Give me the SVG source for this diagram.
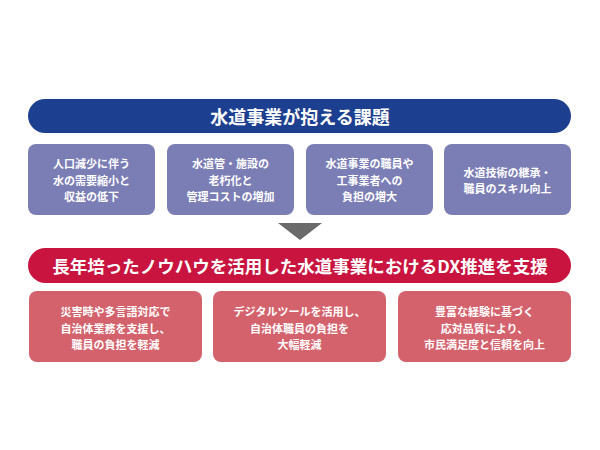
<svg xmlns="http://www.w3.org/2000/svg" width="600" height="450" viewBox="0 0 600 450">
<style>
text{font-family:"Noto Sans CJK JP","Noto Sans CJK SC",sans-serif;font-weight:bold;fill:#fff;text-anchor:middle;dominant-baseline:central}
.h{font-size:18px}
.h2{font-size:17.5px}
.c{font-size:11px}
.bh{fill:#1d3f8f}
.bc{fill:#7b7db5}
.rh{fill:#c8143f}
.rc{fill:#d4626c}
</style>
<rect width="600" height="450" fill="#fff"/>
<g id="header-issues">
<rect class="bh" x="28" y="99" width="543" height="34" rx="17"/>
<text class="h" x="300" y="116">水道事業が抱える課題</text>
</g>
<g id="issue1">
<rect class="bc" x="28" y="144" width="127" height="71" rx="8"/>
<text class="c" x="91.5" y="163">人口減少に伴う</text>
<text class="c" x="91.5" y="179.5">水の需要縮小と</text>
<text class="c" x="91.5" y="196">収益の低下</text>
</g>
<g id="issue2">
<rect class="bc" x="167" y="144" width="127" height="71" rx="8"/>
<text class="c" x="230.5" y="163">水道管・施設の</text>
<text class="c" x="230.5" y="179.5">老朽化と</text>
<text class="c" x="230.5" y="196">管理コストの増加</text>
</g>
<g id="issue3">
<rect class="bc" x="306" y="144" width="127" height="71" rx="8"/>
<text class="c" x="369.5" y="163">水道事業の職員や</text>
<text class="c" x="369.5" y="179.5">工事業者への</text>
<text class="c" x="369.5" y="196">負担の増大</text>
</g>
<g id="issue4">
<rect class="bc" x="444" y="144" width="127" height="71" rx="8"/>
<text class="c" x="507.5" y="171.5">水道技術の継承・</text>
<text class="c" x="507.5" y="188">職員のスキル向上</text>
</g>
<g id="connectors">
<polygon points="278,223 322,223 300,240" fill="#6a6a6a"/>
</g>
<g id="header-solution">
<rect class="rh" x="28" y="248" width="543" height="35" rx="17.5"/>
<text class="h2" x="300" y="265.5">長年培ったノウハウを活用した水道事業におけるDX推進を支援</text>
</g>
<g id="solution1">
<rect class="rc" x="29" y="291" width="173" height="71" rx="8"/>
<text class="c" x="115.5" y="311">災害時や多言語対応で</text>
<text class="c" x="115.5" y="327.5">自治体業務を支援し、</text>
<text class="c" x="115.5" y="344">職員の負担を軽減</text>
</g>
<g id="solution2">
<rect class="rc" x="213" y="291" width="173" height="71" rx="8"/>
<text class="c" x="299.5" y="311">デジタルツールを活用し、</text>
<text class="c" x="299.5" y="327.5">自治体職員の負担を</text>
<text class="c" x="299.5" y="344">大幅軽減</text>
</g>
<g id="solution3">
<rect class="rc" x="398" y="291" width="173" height="71" rx="8"/>
<text class="c" x="484.5" y="311">豊富な経験に基づく</text>
<text class="c" x="484.5" y="327.5">応対品質により、</text>
<text class="c" x="484.5" y="344">市民満足度と信頼を向上</text>
</g>
</svg>
